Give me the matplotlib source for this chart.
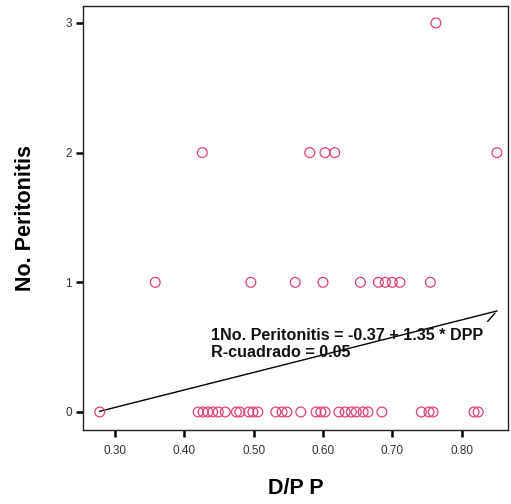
import numpy as np
import matplotlib.pyplot as plt

plt.rcParams['font.family'] = ['Liberation Sans', 'DejaVu Sans']

# D/P P values for each count of peritonitis episodes
dpp_0 = [0.278, 0.420, 0.427, 0.434, 0.441, 0.449, 0.459, 0.475, 0.480, 0.493,
         0.499, 0.506, 0.532, 0.541, 0.548, 0.568, 0.590, 0.597, 0.603, 0.623,
         0.632, 0.641, 0.648, 0.658, 0.665, 0.685, 0.742, 0.753, 0.759, 0.818, 0.824]
dpp_1 = [0.358, 0.496, 0.560, 0.600, 0.654, 0.680, 0.690, 0.700, 0.711, 0.755]
dpp_2 = [0.426, 0.581, 0.603, 0.617, 0.851]
dpp_3 = [0.763]

intercept, slope = -0.37, 1.35
eq_text = "1No. Peritonitis = -0.37 + 1.35 * DPP\nR-cuadrado = 0.05"

x = np.array(dpp_0 + dpp_1 + dpp_2 + dpp_3)
y = np.array([0] * len(dpp_0) + [1] * len(dpp_1) + [2] * len(dpp_2) + [3] * len(dpp_3))

fig = plt.figure(figsize=(5.11, 5.04), dpi=100)
ax = fig.add_axes([83 / 511, 74 / 504, 425 / 511, 424 / 504])

ax.scatter(x, y, s=50, facecolors='none', edgecolors='#e8406e', linewidths=0.9, zorder=3)

# fit line over the data range
xs = np.array([x.min(), x.max()])
ax.plot(xs, intercept + slope * xs, color='black', linewidth=1.0, zorder=2)

ax.text(0.439, 0.525, eq_text, fontsize=11.6, fontweight='bold', color='#111111',
        va='center', ha='left', linespacing=1.2, zorder=4)
ax.annotate('', xy=(xs[1], intercept + slope * xs[1]), xytext=(-8, -9),
            textcoords='offset points',
            arrowprops=dict(arrowstyle='-', color='black', lw=1.0))

ax.set_xlim(0.2538, 0.867)
ax.set_ylim(-0.139, 3.131)
ax.set_xticks([0.30, 0.40, 0.50, 0.60, 0.70, 0.80])
ax.set_xticklabels(['0.30', '0.40', '0.50', '0.60', '0.70', '0.80'])
ax.set_yticks([0, 1, 2, 3])

ax.tick_params(axis='both', direction='out', length=5, width=1.8, labelsize=8.5,
               labelcolor='#333333')
ax.tick_params(axis='x', pad=6)
ax.tick_params(axis='y', pad=3)
for s in ax.spines.values():
    s.set_color('#222222')
    s.set_linewidth(1.0)

ax.set_xlabel('D/P P', fontsize=15.5, fontweight='bold', labelpad=15)
ax.set_ylabel('No. Peritonitis', fontsize=15.5, fontweight='bold', labelpad=21)

fig.savefig('out.png', dpi=100, facecolor='white')
